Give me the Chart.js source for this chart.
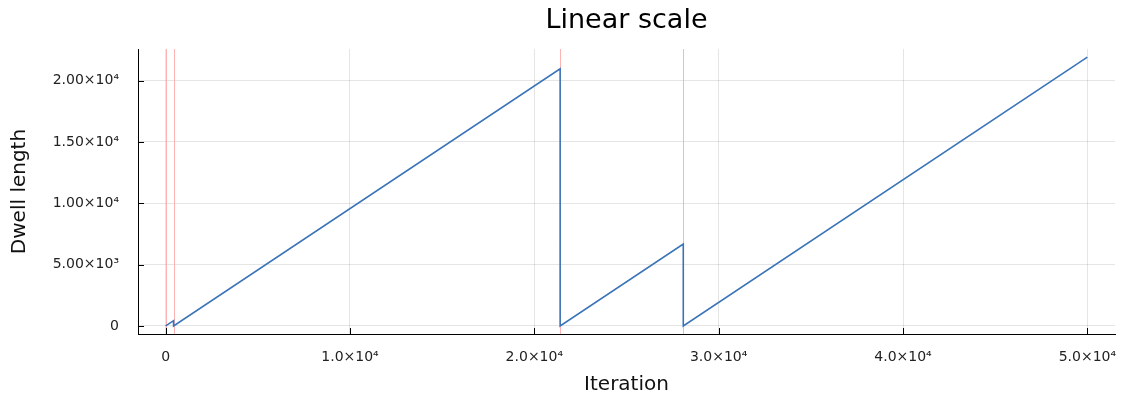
<!DOCTYPE html>
<html>
<head>
<meta charset="utf-8">
<script src="https://cdn.jsdelivr.net/npm/chart.js@4/dist/chart.umd.min.js"></script>
<style>
  html, body { margin: 0; padding: 0; background: #fff; }
  #wrap { width: 1124px; height: 398px; position: relative; }
</style>
</head>
<body>
<div id="wrap"><canvas id="dwellChart"></canvas></div>
<script>
// dwell length vs iteration (sawtooth, resets at change points)
const iterations = [0, 430, 430, 21400, 21400, 28080, 28080, 50000];
const dwell      = [0, 430, 0, 20970, 0, 6680, 0, 21920];

// red marker lines where the dwell resets
const changePoints = [0, 430, 21400, 28080];

const xTicks = [0, 10000, 20000, 30000, 40000, 50000];
const xTickLabels = ['0', '1.0×10⁴', '2.0×10⁴', '3.0×10⁴', '4.0×10⁴', '5.0×10⁴'];
const yTicks = [0, 5000, 10000, 15000, 20000];
const yTickLabels = ['0', '5.00×10³', '1.00×10⁴', '1.50×10⁴', '2.00×10⁴'];

const TITLE = 'Linear scale';
const FONT = 'DejaVu Sans';

// title centred over the plot area (not the whole canvas)
const plotTitle = {
  id: 'plotTitle',
  afterDraw(chart) {
    const { ctx, chartArea: a } = chart;
    ctx.save();
    ctx.font = `27px "${FONT}"`;
    ctx.fillStyle = '#000';
    ctx.textAlign = 'center';
    ctx.textBaseline = 'middle';
    ctx.fillText(TITLE, (a.left + a.right) / 2, 21);
    ctx.restore();
  },
};

// vertical red lines, drawn under the data
const changeLines = {
  id: 'changeLines',
  beforeDatasetsDraw(chart) {
    const { ctx, chartArea: a, scales: { x } } = chart;
    ctx.save();
    ctx.strokeStyle = '#ffb4b4';
    ctx.lineWidth = 1;
    changePoints.forEach(v => {
      const px = Math.round(x.getPixelForValue(v)) + 0.5;
      ctx.beginPath();
      ctx.moveTo(px, a.top);
      ctx.lineTo(px, a.bottom);
      ctx.stroke();
    });
    ctx.restore();
  },
};

// small tick marks pointing into the plot
const innerTicks = {
  id: 'innerTicks',
  afterDraw(chart) {
    const { ctx, chartArea: a, scales: { x, y } } = chart;
    ctx.save();
    ctx.strokeStyle = '#000';
    ctx.lineWidth = 1;
    xTicks.forEach(v => {
      const px = Math.round(x.getPixelForValue(v)) + 0.5;
      ctx.beginPath(); ctx.moveTo(px, a.bottom); ctx.lineTo(px, a.bottom - 6); ctx.stroke();
    });
    yTicks.forEach(v => {
      const py = Math.round(y.getPixelForValue(v)) + 0.5;
      ctx.beginPath(); ctx.moveTo(a.left, py); ctx.lineTo(a.left + 6, py); ctx.stroke();
    });
    ctx.restore();
  },
};

new Chart(document.getElementById('dwellChart'), {
  type: 'line',
  data: {
    datasets: [{
      label: 'Dwell length',
      data: iterations.map((it, i) => ({ x: it, y: dwell[i] })),
      borderColor: '#3a74b8',
      borderWidth: 1.6,
      pointRadius: 0,
      tension: 0,
      fill: false,
    }],
  },
  options: {
    responsive: true, maintainAspectRatio: false, animation: false,
    layout: { padding: { left: 0, right: 9, top: 49, bottom: 0 } },
    plugins: {
      legend: { display: false },
      tooltip: { enabled: false },
      title: { display: false },
    },
    scales: {
      x: {
        type: 'linear', min: -1500, max: 51500,
        afterBuildTicks: s => { s.ticks = xTicks.map(v => ({ value: v })); },
        afterFit: s => { s.height = 64; s.paddingLeft = 0; s.paddingRight = 0; },
        grid: { color: 'rgba(0,0,0,0.1)', drawTicks: false },
        border: { color: '#000', width: 1 },
        ticks: {
          padding: 15, color: '#222', maxRotation: 0, autoSkip: false,
          font: { family: FONT, size: 14 },
          callback: v => xTickLabels[xTicks.indexOf(v)] ?? '',
        },
        title: {
          display: true, text: 'Iteration', color: '#111',
          font: { family: FONT, size: 20 }, padding: { top: 0, bottom: 1 },
        },
      },
      y: {
        type: 'linear', min: -658, max: 22578,
        afterBuildTicks: s => { s.ticks = yTicks.map(v => ({ value: v })); },
        afterFit: s => { s.width = 138; s.paddingTop = 0; s.paddingBottom = 0; },
        grid: { color: 'rgba(0,0,0,0.1)', drawTicks: false },
        border: { color: '#000', width: 1 },
        ticks: {
          padding: 19, color: '#222', autoSkip: false,
          font: { family: FONT, size: 14 },
          callback: v => yTickLabels[yTicks.indexOf(v)] ?? '',
        },
        title: {
          display: true, text: 'Dwell length', color: '#111',
          font: { family: FONT, size: 20 }, padding: { top: 8, bottom: 0 },
        },
      },
    },
  },
  plugins: [changeLines, innerTicks, plotTitle],
});
</script>
</body>
</html>
